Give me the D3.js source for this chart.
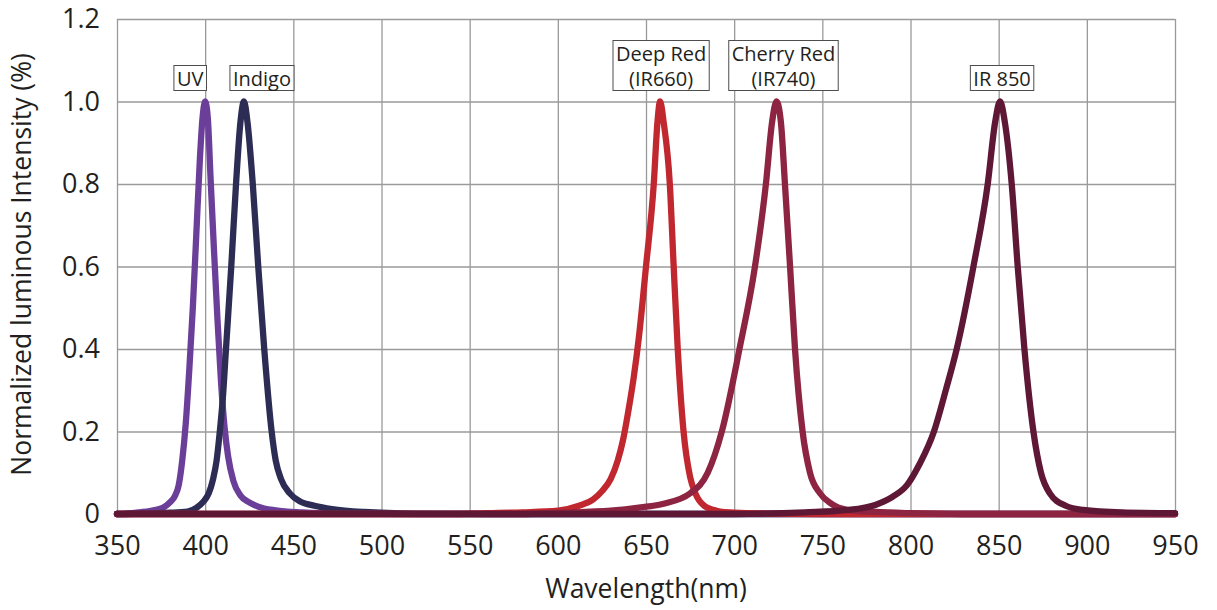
<!DOCTYPE html>
<html>
<head>
<meta charset="utf-8">
<script src="https://cdn.jsdelivr.net/npm/d3@7/dist/d3.min.js"></script>
<style>
  body { margin: 0; background: #fff; }
  svg text { font-family: "Open Sans", sans-serif; fill: #231f20; }
</style>
</head>
<body>
<div id="chart"></div>
<script>
// tick values
const xTicks = [350, 400, 450, 500, 550, 600, 650, 700, 750, 800, 850, 900, 950];
const yTicks = [0, 0.2, 0.4, 0.6, 0.8, 1.0, 1.2];

// series names and labels
const seriesNames = ["UV", "Indigo", "Deep Red", "Cherry Red", "IR 850"];
const labelLines = [["UV"], ["Indigo"], ["Deep Red", "(IR660)"], ["Cherry Red", "(IR740)"], ["IR 850"]];

// spectra (wavelength nm, normalized intensity)
const uvWave = [350, 360, 370, 376, 380, 383, 385, 387, 389, 391, 393, 395, 397, 398.5, 400, 401.5, 403, 405, 407, 409, 411, 413, 416, 420, 425, 430, 440, 455, 480, 520, 950];
const uvValue = [0, 0.003, 0.008, 0.015, 0.028, 0.045, 0.07, 0.13, 0.22, 0.35, 0.5, 0.68, 0.86, 0.96, 1.0, 0.96, 0.82, 0.64, 0.47, 0.32, 0.21, 0.14, 0.08, 0.045, 0.028, 0.018, 0.009, 0.004, 0.001, 0, 0];

const indigoWave = [350, 380, 390, 395, 399, 402, 404.5, 406.5, 408.3, 410, 411.8, 414.8, 417.5, 420, 422, 424, 427, 430.1, 433.5, 437.7, 440, 443, 448, 454, 462, 472, 490, 520, 560, 950];
const indigoValue = [0, 0.003, 0.006, 0.015, 0.03, 0.05, 0.085, 0.13, 0.2, 0.28, 0.4, 0.6, 0.8, 0.95, 1.0, 0.95, 0.8, 0.6, 0.4, 0.2, 0.13, 0.085, 0.05, 0.03, 0.02, 0.012, 0.005, 0.001, 0, 0];

const deepRedWave = [350, 540, 560, 580, 600, 612, 620, 625, 630, 634, 637, 640, 643, 646, 650, 654.4, 656.5, 658, 660, 663.5, 665.7, 668, 671.3, 675, 678, 683, 690, 700, 720, 750, 950];
const deepRedValue = [0, 0, 0.002, 0.004, 0.008, 0.02, 0.035, 0.055, 0.085, 0.13, 0.18, 0.25, 0.33, 0.43, 0.6, 0.8, 0.95, 1.0, 0.95, 0.8, 0.6, 0.4, 0.2, 0.09, 0.05, 0.02, 0.008, 0.003, 0.001, 0, 0];

const cherryWave = [350, 580, 600, 630, 647, 660, 675, 685, 693, 703, 711.8, 718, 721.5, 724, 726.5, 728.8, 731.7, 734.5, 738.8, 743, 748.7, 755, 764, 780, 800, 830, 950];
const cherryValue = [0, 0, 0.003, 0.008, 0.016, 0.025, 0.05, 0.1, 0.2, 0.4, 0.6, 0.8, 0.95, 1.0, 0.95, 0.8, 0.6, 0.4, 0.2, 0.1, 0.05, 0.025, 0.01, 0.005, 0.002, 0, 0];

const ir850Wave = [350, 700, 740, 765, 780, 790, 798, 805, 813.3, 820, 826.2, 835.7, 843.8, 848, 850.8, 853.5, 857.4, 860.8, 864.6, 869.7, 874, 879, 888, 898, 920, 950];
const ir850Value = [0, 0, 0.004, 0.01, 0.022, 0.042, 0.07, 0.12, 0.2, 0.3, 0.4, 0.6, 0.8, 0.95, 1.0, 0.95, 0.8, 0.6, 0.4, 0.2, 0.1, 0.05, 0.02, 0.01, 0.004, 0.002];

const seriesWaves = [uvWave, indigoWave, deepRedWave, cherryWave, ir850Wave];
const seriesValues = [uvValue, indigoValue, deepRedValue, cherryValue, ir850Value];

const colors = ["#6b3f99", "#2c2c55", "#c1272e", "#8d2441", "#5e1735"];
// horizontal nudge of each label box from its peak, px
const labelShift = [-15, 18, 1, 7, 2];

const width = 1217, height = 610;
const margin = { top: 19, right: 42, bottom: 96, left: 117 };
const w = width - margin.left - margin.right;
const h = height - margin.top - margin.bottom;

const svg = d3.select("#chart").append("svg")
  .attr("width", width)
  .attr("height", height);

const g = svg.append("g")
  .attr("transform", `translate(${margin.left},${margin.top})`);

const x = d3.scaleLinear().domain([350, 950]).range([0, w]);
const y = d3.scaleLinear().domain([0, 1.2]).range([h, 0]);

// Grid
g.append("g")
  .attr("transform", `translate(0,${h})`)
  .call(d3.axisBottom(x).tickValues(xTicks).tickSize(h).tickFormat(""))
  .call(a => a.select(".domain").remove())
  .call(a => a.selectAll("line").attr("transform", `translate(0,${-h})`)
    .attr("stroke", "#9a9a9a").attr("stroke-width", 1.3));

g.append("g")
  .call(d3.axisLeft(y).tickValues(yTicks).tickSize(-w).tickFormat(""))
  .call(a => a.select(".domain").remove())
  .call(a => a.selectAll("line").attr("stroke", "#9a9a9a").attr("stroke-width", 1.3));

// Tick labels
const xAxis = g.append("g")
  .attr("transform", `translate(0,${h})`)
  .call(d3.axisBottom(x).tickValues(xTicks).tickSize(0).tickPadding(22).tickFormat(d3.format("d")));
xAxis.select(".domain").remove();
xAxis.selectAll("text").style("font-size", "27px").style("font-family", "Open Sans").attr("fill", "#231f20");

const yAxis = g.append("g")
  .call(d3.axisLeft(y).tickValues(yTicks).tickSize(0).tickPadding(17)
    .tickFormat(d => d === 0 ? "0" : d3.format(".1f")(d)));
yAxis.select(".domain").remove();
yAxis.selectAll("text").style("font-size", "27px").style("font-family", "Open Sans").attr("fill", "#231f20");

// Curves
const line = d3.line()
  .x(d => x(d[0]))
  .y(d => y(d[1]))
  .curve(d3.curveMonotoneX);

seriesNames.forEach((name, i) => {
  const pts = d3.zip(seriesWaves[i], seriesValues[i]);
  g.append("path")
    .datum(pts)
    .attr("fill", "none")
    .attr("stroke", colors[i])
    .attr("stroke-width", 6.3)
    .attr("stroke-linecap", "round")
    .attr("stroke-linejoin", "round")
    .attr("d", line);
});

// Peak labels in boxes
seriesNames.forEach((name, i) => {
  const vals = seriesValues[i];
  const k = d3.maxIndex(vals);
  const cx = x(seriesWaves[i][k]) + labelShift[i];
  const bottom = y(vals[k]) - 11;
  const lines = labelLines[i];
  const lab = g.append("g");
  const t = lab.append("text")
    .attr("text-anchor", "middle")
    .style("font-size", "20px");
  lines.forEach((s, j) => {
    t.append("tspan")
      .attr("x", cx)
      .attr("y", bottom - 5 - (lines.length - 1 - j) * 25)
      .text(s);
  });
  const bb = t.node().getBBox();
  lab.insert("rect", "text")
    .attr("x", bb.x - 3)
    .attr("y", bottom - lines.length * 25)
    .attr("width", bb.width + 6)
    .attr("height", lines.length * 25)
    .attr("fill", "#fff")
    .attr("stroke", "#4d4d4d")
    .attr("stroke-width", 1);
});

// Axis titles
svg.append("text")
  .attr("x", margin.left + x(650))
  .attr("y", 598)
  .attr("text-anchor", "middle")
  .style("font-size", "26.5px")
  .text("Wavelength(nm)");

svg.append("text")
  .attr("transform", `translate(31,${margin.top + y(0.605)}) rotate(-90)`)
  .attr("text-anchor", "middle")
  .style("font-size", "26.5px")
  .text("Normalized luminous Intensity (%)");
</script>
</body>
</html>
